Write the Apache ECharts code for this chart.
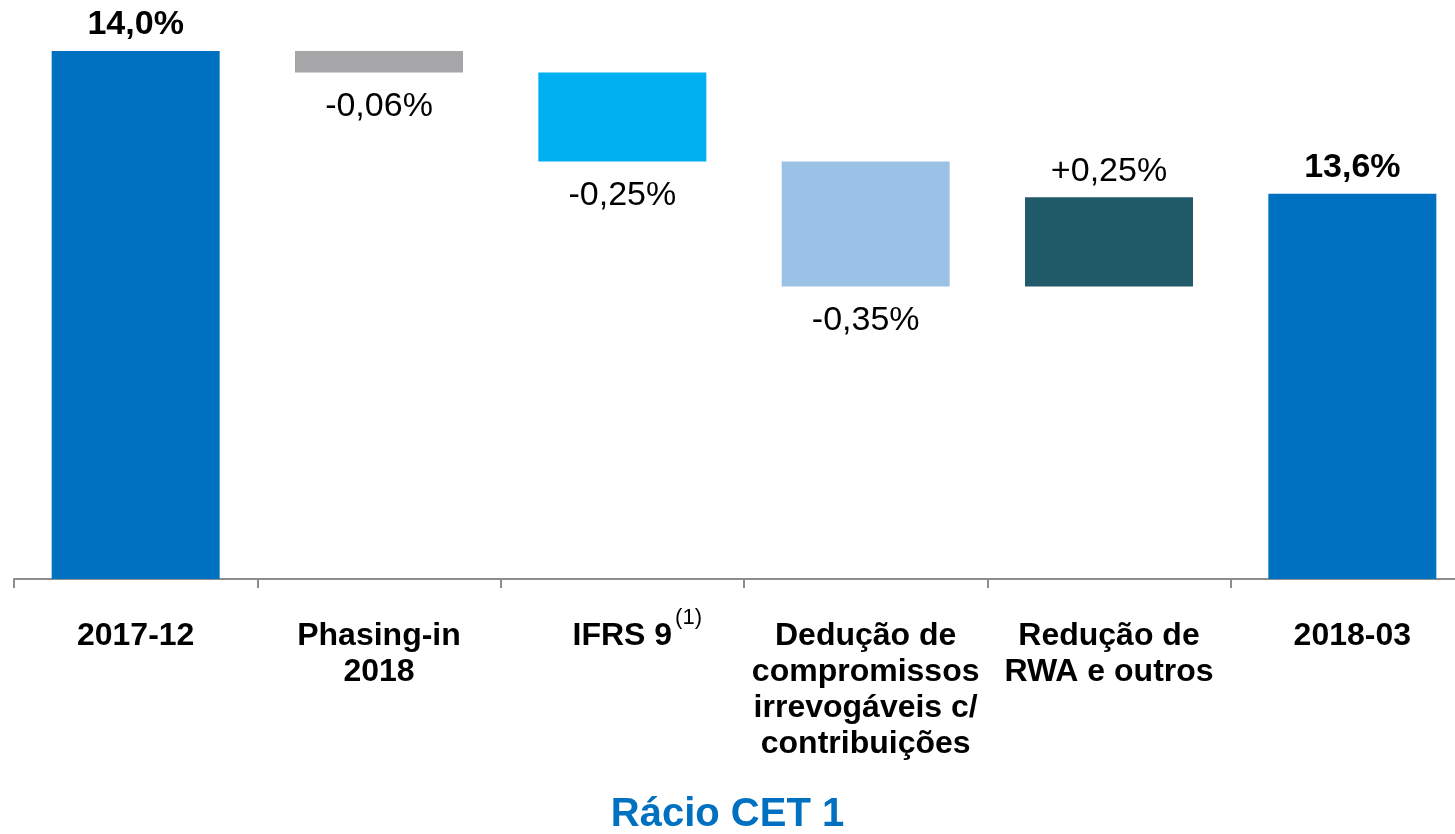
<!DOCTYPE html>
<html>
<head>
<meta charset="utf-8">
<script src="https://cdn.jsdelivr.net/npm/echarts@6/dist/echarts.min.js"></script>
<style>
  html, body { margin: 0; padding: 0; background: #ffffff; }
  #chart { width: 1455px; height: 834px; }
</style>
</head>
<body>
<div id="chart"></div>
<script>
// CET 1 ratio bridge: opening ratio, movements, closing ratio
const categories = [
  '2017-12',
  'Phasing-in\n2018',
  'IFRS 9',
  'Dedução de\ncompromissos\nirrevogáveis c/\ncontribuições',
  'Redução de\nRWA e outros',
  '2018-03'
];
const footnoteCategory = 'IFRS 9';
const footnoteMark = '(1)';
const startValue = 14.0;
const changes = [-0.06, -0.25, -0.35, 0.25];
const endValue = 13.6;
const barColors = ['#0070C0', '#A6A6A9', '#00B0F0', '#9BC2E6', '#215A68', '#0070C0'];

const FONT = '"Liberation Sans", Arial, Helvetica, sans-serif';
const AXIS_MIN = 12.52;

// build floating bars: invisible base + visible segment
const baseData = [0];
const barData = [{ value: startValue, kind: 'total' }];
let level = startValue;
changes.forEach(function (c) {
  const next = level + c;
  baseData.push(Math.min(level, next));
  barData.push({ value: Math.abs(c), kind: 'delta', delta: c });
  level = next;
});
baseData.push(0);
barData.push({ value: endValue, kind: 'total' });

const fmtTotal = v => v.toFixed(1).replace('.', ',') + '%';
const fmtDelta = v => (v > 0 ? '+' : '-') + Math.abs(v).toFixed(2).replace('.', ',') + '%';

const seriesData = barData.map(function (d, i) {
  const item = {
    value: d.value,
    itemStyle: { color: barColors[i] }
  };
  if (d.kind === 'total') {
    item.label = {
      show: true, position: 'top', distance: 9,
      formatter: fmtTotal(d.value),
      fontWeight: 'bold', fontSize: 34, color: '#000', fontFamily: FONT
    };
  } else {
    const below = d.delta < 0;
    item.label = {
      show: true, position: below ? 'bottom' : 'top', distance: below ? 17 : 9,
      formatter: fmtDelta(d.delta),
      fontWeight: 'normal', fontSize: 34, color: '#000', fontFamily: FONT
    };
  }
  return item;
});

const chart = echarts.init(document.getElementById('chart'));
chart.setOption({
  animation: false,
  backgroundColor: '#ffffff',
  title: {
    text: 'Rácio CET 1',
    left: 'center',
    top: 790,
    textStyle: { color: '#0070C0', fontSize: 40, fontWeight: 'bold', fontFamily: FONT }
  },
  // the last category slot runs past the right edge of the canvas
  grid: { left: 14, width: 1460, top: 51, bottom: 255, containLabel: false, outerBoundsMode: 'none' },
  xAxis: {
    type: 'category',
    data: categories,
    axisLine: { show: true, lineStyle: { color: '#8E8E8E', width: 2 } },
    axisTick: { show: true, length: 9, lineStyle: { color: '#8E8E8E', width: 2 } },
    axisLabel: {
      interval: 0,
      margin: 39,
      color: '#000',
      fontSize: 32,
      fontWeight: 'bold',
      fontFamily: FONT,
      lineHeight: 36
    }
  },
  yAxis: {
    type: 'value',
    min: AXIS_MIN,
    max: 14.0,
    show: false,
    splitLine: { show: false }
  },
  series: [
    {
      type: 'bar',
      stack: 'bridge',
      data: baseData,
      barWidth: 168,
      itemStyle: { color: 'transparent' },
      emphasis: { disabled: true },
      silent: true
    },
    {
      type: 'bar',
      stack: 'bridge',
      data: seriesData,
      barWidth: 168
    }
  ]
});

// superscript footnote mark after the "IFRS 9" axis label
(function () {
  const ctx = document.createElement('canvas').getContext('2d');
  ctx.font = 'bold 32px ' + FONT;
  const labelHalf = ctx.measureText(footnoteCategory).width / 2;
  const cx = chart.convertToPixel({ xAxisIndex: 0 }, footnoteCategory);
  const axisY = chart.convertToPixel({ yAxisIndex: 0 }, AXIS_MIN);
  chart.setOption({
    graphic: [{
      type: 'text',
      x: cx + labelHalf + 3,
      y: axisY + 28,
      silent: true,
      style: {
        text: footnoteMark,
        fontSize: 22,
        fontFamily: FONT,
        fill: '#000',
        textAlign: 'left',
        textVerticalAlign: 'top'
      }
    }]
  });
})();
</script>
</body>
</html>
